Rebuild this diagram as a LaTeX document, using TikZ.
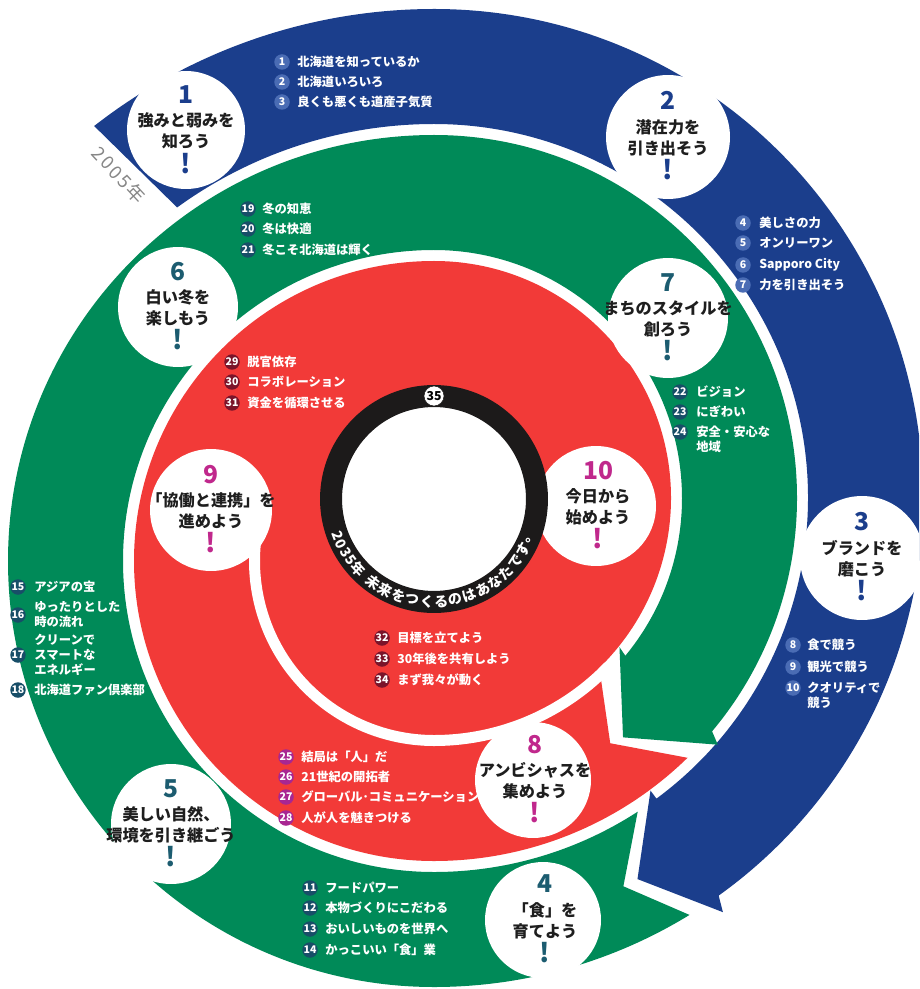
\documentclass[tikz,border=0pt]{standalone}
\usepackage{fontspec}
\setmainfont{Noto Sans CJK JP}
\usetikzlibrary{calc}

\definecolor{bandblue}{RGB}{27,62,140}
\definecolor{bandgreen}{RGB}{0,138,88}
\definecolor{bandred}{RGB}{242,58,56}
\definecolor{ringblack}{RGB}{28,26,26}
\definecolor{numblue}{RGB}{27,62,140}
\definecolor{numteal}{RGB}{28,92,112}
\definecolor{nummag}{RGB}{192,40,140}
\definecolor{badgeblue}{RGB}{74,108,180}
\definecolor{badgeteal}{RGB}{24,78,104}
\definecolor{badgemaroon}{RGB}{122,20,42}
\definecolor{badgepurple}{RGB}{168,38,146}
\definecolor{yeargray}{RGB}{135,135,135}
\definecolor{titleink}{RGB}{30,30,30}

\tikzset{
  disc/.style={circle, fill=white, inner sep=0pt, outer sep=0pt},
  numtext/.style={inner sep=0pt, font=\fontsize{14}{14}\selectfont\bfseries},
  titletext/.style={inner sep=0pt, align=center, text=titleink,
    font=\fontsize{9.2}{12}\selectfont\bfseries},
  bang/.style={inner sep=0pt, font=\fontsize{15}{15}\selectfont\bfseries},
  badge/.style={circle, inner sep=0pt, minimum size=0.31cm, text=white,
    font=\fontsize{6}{6}\selectfont\bfseries},
  item/.style={anchor=west, inner sep=0pt, text=white,
    font=\fontsize{7}{8}\selectfont\bfseries},
  ringchar/.style={inner sep=0pt, text=white, font=\fontsize{8}{8}\selectfont\bfseries},
}

\begin{document}
\begin{tikzpicture}[x=0.02cm, y=-0.02cm]
\useasboundingbox (0,0) rectangle (919,989);
\clip (0,0) rectangle (919,989);
\fill[white] (0,0) rectangle (919,989);

% the spiral is built from half turns around two centres
\coordinate (C1) at (434,561);   % left half turns
\coordinate (C2) at (434,498);   % right half turns
\coordinate (O) at (434,499);    % black ring

% ---------- blue band (1-3) ----------
\fill[bandblue] ($(C1)+(232:552)$) arc[start angle=232,end angle=270,radius=552]
  arc[start angle=-90,end angle=54.4,radius=489]
  -- ($(C2)+(55.1:505)$) -- ($(C2)+(61.9:432)$) -- ($(C2)+(53.5:364)$)
  -- ($(C2)+(53.5:374)$) arc[start angle=53.5,end angle=-90,radius=374]
  arc[start angle=270,end angle=234,radius=437] -- cycle;

% ---------- green band (4-7) ----------
\fill[bandgreen] ($(C2)+(58.5:489)$) arc[start angle=58.5,end angle=90,radius=489]
  arc[start angle=90,end angle=270,radius=426]
  arc[start angle=-90,end angle=40,radius=363]
  -- ($(C2)+(41:376)$) -- ($(C2)+(51.7:305)$) -- ($(C2)+(38.8:238)$)
  -- ($(C2)+(39.5:248)$) arc[start angle=39.5,end angle=-90,radius=248]
  arc[start angle=270,end angle=90,radius=311]
  arc[start angle=90,end angle=57,radius=374]
  -- ($(C2)+(64:432)$) -- cycle;

% ---------- red band (8-10), winding into the centre ----------
\fill[bandred] ($(C2)+(45.7:363)$) arc[start angle=45.7,end angle=90,radius=363]
  arc[start angle=90,end angle=270,radius=300]
  arc[start angle=-90,end angle=46,radius=237]
  -- ($(C2)+(47.6:248)$) -- ($(C2)+(54.3:302)$) -- cycle;
% gap between the two red turns
\draw[white, line width=0.22cm] ($(C2)+(44:242.5)$)
  arc[start angle=44,end angle=90,radius=242.5]
  arc[start angle=90,end angle=198,radius=179.5];

% ---------- white discs ----------
\node[disc, minimum size=2.36cm] (c1) at (186,130) {};
\node[disc, minimum size=2.48cm] (c2) at (668,137) {};
\node[disc, minimum size=2.48cm] (c3) at (862,558) {};
\node[disc, minimum size=2.32cm] (c4) at (543,920) {};
\node[disc, minimum size=2.40cm] (c5) at (171,824) {};
\node[disc, minimum size=2.40cm] (c6) at (178,307) {};
\node[disc, minimum size=2.40cm] (c7) at (668,318) {};
\node[disc, minimum size=2.32cm] (c8) at (533,780) {};
\node[disc, minimum size=2.44cm] (c9) at (211,510) {};
\node[disc, minimum size=2.40cm] (c10) at (596,506) {};

% ---------- black ring ----------
\node[circle, draw=ringblack, fill=white, line width=0.44cm, inner sep=0pt, outer sep=0pt,
  minimum size=4.12cm] (ring) at (O) {};
\node[circle, fill=white, draw=ringblack, line width=0.3pt, inner sep=0pt, minimum size=0.4cm,
  font=\fontsize{7}{7}\selectfont\bfseries] (b35) at (434,396) {35};
\foreach \ch/\ang [count=\k] in {2/159,0/154,3/149,5/144,年/137.5,未/126.2,来/118.1,
  を/110.1,つ/102.0,く/93.9,る/85.9,の/77.8,は/69.7,あ/61.7,な/53.6,た/45.5,で/37.5,す/29.4,。/21.4}
  \node[ringchar, rotate=90-\ang] (rc\k) at ($(O)+(\ang:103)$) {\ch};

% ---------- circle captions ----------
\node[numtext, text=numblue] (n1) at (186,95) {1};
\node[titletext] (t1) at (186,131) {強みと弱みを\\知ろう};
\node[bang, text=numblue] (x1) at (186,164) {!};

\node[numtext, text=numblue] (n2) at (668,100) {2};
\node[titletext] (t2) at (668,138) {潜在力を\\引き出そう};
\node[bang, text=numblue] (x2) at (668,170) {!};

\node[numtext, text=numblue] (n3) at (862,522) {3};
\node[titletext] (t3) at (862,559) {ブランドを\\磨こう};
\node[bang, text=numblue] (x3) at (862,591) {!};

\node[numtext, text=numteal] (n4) at (545,884) {4};
\node[titletext] (t4) at (545,921) {「食」を\\育てよう};
\node[bang, text=numteal] (x4) at (545,953) {!};

\node[numtext, text=numteal] (n5) at (171,789) {5};
\node[titletext] (t5) at (171,825) {美しい自然、\\環境を引き継ごう};
\node[bang, text=numteal] (x5) at (171,857) {!};

\node[numtext, text=numteal] (n6) at (178,272) {6};
\node[titletext] (t6) at (178,308) {白い冬を\\楽しもう};
\node[bang, text=numteal] (x6) at (178,340) {!};

\node[numtext, text=numteal] (n7) at (668,283) {7};
\node[titletext] (t7) at (668,319) {まちのスタイルを\\創ろう};
\node[bang, text=numteal] (x7) at (668,351) {!};

\node[numtext, text=nummag] (n8) at (535,745) {8};
\node[titletext] (t8) at (535,781) {アンビシャスを\\集めよう};
\node[bang, text=nummag] (x8) at (535,813) {!};

\node[numtext, text=nummag] (n9) at (211,475) {9};
\node[titletext] (t9) at (211,511) {「協働と連携」を\\進めよう};
\node[bang, text=nummag] (x9) at (211,543) {!};

\node[numtext, text=nummag] (n10) at (598,471) {10};
\node[titletext] (t10) at (598,507) {今日から\\始めよう};
\node[bang, text=nummag] (x10) at (598,539) {!};

% ---------- year label ----------
\node[inner sep=0pt, text=yeargray, rotate=-47,
  font=\fontsize{10.5}{10.5}\selectfont\addfontfeatures{LetterSpace=12}] (yr) at (119,175) {2005年};

% ---------- blue lists ----------
\node[badge, fill=badgeblue] (b1) at (282,62) {1};
\node[item] (i1) at (297,62) {北海道を知っているか};
\node[badge, fill=badgeblue] (b2) at (282,82) {2};
\node[item] (i2) at (297,82) {北海道いろいろ};
\node[badge, fill=badgeblue] (b3) at (282,102) {3};
\node[item] (i3) at (297,102) {良くも悪くも道産子気質};

\node[badge, fill=badgeblue] (b4) at (743,223) {4};
\node[item] (i4) at (759,223) {美しさの力};
\node[badge, fill=badgeblue] (b5) at (743,243) {5};
\node[item] (i5) at (759,243) {オンリーワン};
\node[badge, fill=badgeblue] (b6) at (743,265) {6};
\node[item] (i6) at (759,265) {Sapporo City};
\node[badge, fill=badgeblue] (b7) at (743,285) {7};
\node[item] (i7) at (759,285) {力を引き出そう};

\node[badge, fill=badgeblue] (b8) at (793,645) {8};
\node[item] (i8) at (807,645) {食で競う};
\node[badge, fill=badgeblue] (b9) at (793,667) {9};
\node[item] (i9) at (807,667) {観光で競う};
\node[badge, fill=badgeblue] (b10) at (793,688) {10};
\node[item] (i10) at (807,688) {クオリティで};
\node[item] (i10b) at (807,703) {競う};

% ---------- green lists ----------
\node[badge, fill=badgeteal] (b11) at (310,888) {11};
\node[item] (i11) at (325,888) {フードパワー};
\node[badge, fill=badgeteal] (b12) at (310,908) {12};
\node[item] (i12) at (325,908) {本物づくりにこだわる};
\node[badge, fill=badgeteal] (b13) at (310,929) {13};
\node[item] (i13) at (325,929) {おいしいものを世界へ};
\node[badge, fill=badgeteal] (b14) at (310,950) {14};
\node[item] (i14) at (325,950) {かっこいい「食」業};

\node[badge, fill=badgeteal] (b15) at (18,587) {15};
\node[item] (i15) at (34,587) {アジアの宝};
\node[badge, fill=badgeteal] (b16) at (18,615) {16};
\node[item] (i16) at (34,607) {ゆったりとした};
\node[item] (i16b) at (34,622) {時の流れ};
\node[badge, fill=badgeteal] (b17) at (18,655) {17};
\node[item] (i17) at (34,640) {クリーンで};
\node[item] (i17b) at (34,655) {スマートな};
\node[item] (i17c) at (34,670) {エネルギー};
\node[badge, fill=badgeteal] (b18) at (18,690) {18};
\node[item] (i18) at (34,690) {北海道ファン倶楽部};

\node[badge, fill=badgeteal] (b19) at (248,209) {19};
\node[item] (i19) at (262,209) {冬の知恵};
\node[badge, fill=badgeteal] (b20) at (248,229) {20};
\node[item] (i20) at (262,229) {冬は快適};
\node[badge, fill=badgeteal] (b21) at (248,250) {21};
\node[item] (i21) at (262,250) {冬こそ北海道は輝く};

\node[badge, fill=badgeteal] (b22) at (680,392) {22};
\node[item] (i22) at (696,392) {ビジョン};
\node[badge, fill=badgeteal] (b23) at (680,412) {23};
\node[item] (i23) at (696,412) {にぎわい};
\node[badge, fill=badgeteal] (b24) at (680,432) {24};
\node[item] (i24) at (696,432) {安全・安心な};
\node[item] (i24b) at (696,447) {地域};

% ---------- red lists ----------
\node[badge, fill=badgepurple] (b25) at (286,757) {25};
\node[item] (i25) at (301,757) {結局は「人」だ};
\node[badge, fill=badgepurple] (b26) at (286,777) {26};
\node[item] (i26) at (301,777) {21世紀の開拓者};
\node[badge, fill=badgepurple] (b27) at (286,797) {27};
\node[item] (i27) at (301,797) {グローバル･コミュニケーション};
\node[badge, fill=badgepurple] (b28) at (286,818) {28};
\node[item] (i28) at (301,818) {人が人を魅きつける};

\node[badge, fill=badgemaroon] (b29) at (232,362) {29};
\node[item] (i29) at (247,362) {脱官依存};
\node[badge, fill=badgemaroon] (b30) at (232,382) {30};
\node[item] (i30) at (247,382) {コラボレーション};
\node[badge, fill=badgemaroon] (b31) at (232,403) {31};
\node[item] (i31) at (247,403) {資金を循環させる};

\node[badge, fill=badgemaroon] (b32) at (382,638) {32};
\node[item] (i32) at (397,638) {目標を立てよう};
\node[badge, fill=badgemaroon] (b33) at (382,659) {33};
\node[item] (i33) at (397,659) {30年後を共有しよう};
\node[badge, fill=badgemaroon] (b34) at (382,680) {34};
\node[item] (i34) at (397,680) {まず我々が動く};
\end{tikzpicture}
\end{document}
